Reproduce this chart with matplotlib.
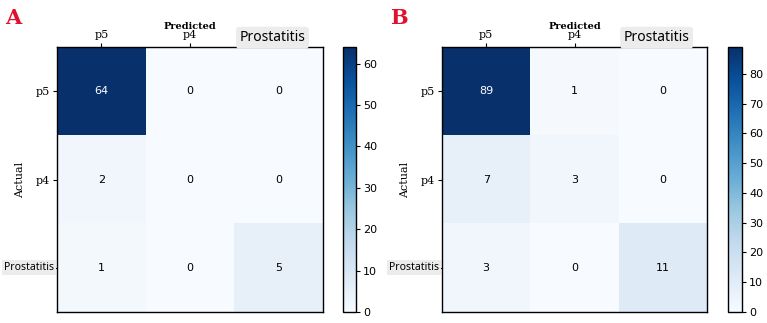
import matplotlib
matplotlib.use("Agg")
import matplotlib.pyplot as plt
import numpy as np

classes = ["p5", "p4", "Prostatitis"]
cm_a = [[64, 0, 0],
        [2, 0, 0],
        [1, 0, 5]]
cm_b = [[89, 1, 0],
        [7, 3, 0],
        [3, 0, 11]]
cbar_ticks_a = [0, 10, 20, 30, 40, 50, 60]
cbar_ticks_b = [0, 10, 20, 30, 40, 50, 60, 70, 80]

W, H = 767, 323
fig = plt.figure(figsize=(W / 100, H / 100), dpi=100)

def fx(px):
    return px / W

def fy(py):
    return 1 - py / H

def panel(cm, letter, ax_rect, cb_rect, ticks):
    cm = np.array(cm)
    ax = fig.add_axes(ax_rect)
    cax = fig.add_axes(cb_rect)
    im = ax.imshow(cm, cmap="Blues", vmin=0, vmax=cm.max(), aspect="auto")
    thresh = cm.max() / 2
    for i in range(cm.shape[0]):
        for j in range(cm.shape[1]):
            ax.text(j, i, str(cm[i, j]), ha="center", va="center",
                    color="white" if cm[i, j] > thresh else "black",
                    fontsize=8, family="DejaVu Sans")
    ax.xaxis.tick_top()
    ax.xaxis.set_label_position("top")
    ax.set_xticks(range(3))
    ax.set_yticks(range(3))
    ax.set_xticklabels(["p5", "p4", ""], family="DejaVu Serif", fontsize=8)
    ax.set_yticklabels(["p5", "p4", ""], family="DejaVu Serif", fontsize=8)
    ax.tick_params(length=3, width=0.8, pad=2)
    ax.set_xlabel("Predicted", family="DejaVu Serif", fontsize=7, labelpad=1,
                  fontweight="bold")
    ax.set_ylabel("Actual", family="DejaVu Serif", fontsize=8)
    ax.yaxis.set_label_coords(-32 / 266, 0.5)
    # Prostatitis labels in gray boxes
    ax.text(1.93, -0.52, "Prostatitis", transform=ax.transData, ha="center",
            va="bottom", fontsize=10, family="Noto Sans",
            bbox=dict(boxstyle="round,pad=0.25", fc="#ececec", ec="none"))
    ax.annotate("Prostatitis", xy=(0, 2), xycoords=("axes fraction", "data"),
                xytext=(-2, 0), textcoords="offset points", ha="right",
                va="center", fontsize=7.5, family="Noto Sans",
                bbox=dict(boxstyle="square,pad=0.2", fc="#ececec", ec="none"))
    for s in ax.spines.values():
        s.set_linewidth(1.0)
    cb = fig.colorbar(im, cax=cax, ticks=ticks)
    cb.ax.tick_params(labelsize=8, length=3, width=0.8, pad=2)
    cb.outline.set_linewidth(1.0)
    fig.text(ax_rect[0] - fx(52), fy(18), letter, color="#e0102e",
             fontsize=15, fontweight="bold", family="DejaVu Serif",
             va="center", ha="left")
    return ax

panel(cm_a, "A", [fx(57), fy(312), fx(266), (312 - 47) / H],
      [fx(343), fy(312), fx(13), (312 - 47) / H], cbar_ticks_a)
panel(cm_b, "B", [fx(442), fy(312), fx(265), (312 - 47) / H],
      [fx(728), fy(312), fx(14), (312 - 47) / H], cbar_ticks_b)

fig.savefig("out.png", dpi=100)
